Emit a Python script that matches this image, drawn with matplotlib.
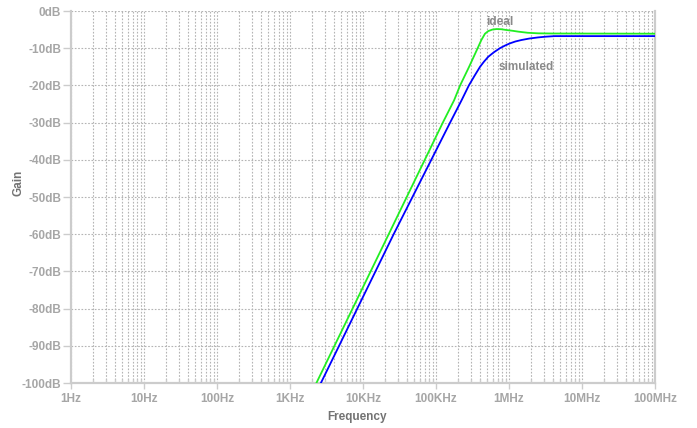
import matplotlib
matplotlib.use('Agg')
import matplotlib.pyplot as plt
from matplotlib.ticker import LogLocator, FixedLocator, NullFormatter

# Values (frequency in Hz, gain in dB)
ideal_freq = [2.3e3, 22.5e3, 124e3, 177e3, 214e3, 284e3, 372e3, 418e3, 469e3,
              520e3, 590e3, 675e3, 783e3, 916e3, 1.15e6, 1.34e6, 1.8e6,
              2.5e6, 4e6, 1e8]
ideal_gain = [-100, -60, -30, -24, -20, -15, -10, -7.8, -6.1,
              -5.4, -5.0, -4.85, -4.9, -5.1, -5.35, -5.55, -5.85,
              -6.0, -6.05, -6.1]

sim_freq = [2.65e3, 26.3e3, 156e3, 224e3, 282e3, 340e3, 401e3, 455e3, 520e3,
            620e3, 751e3, 880e3, 1.03e6, 1.22e6, 1.48e6, 1.9e6, 2.5e6,
            3.2e6, 4.23e6, 1e8]
sim_gain = [-100, -60, -30, -24, -20, -17.3, -15, -13.6, -12.3,
            -11.1, -10, -9.3, -8.7, -8.2, -7.8, -7.4, -7.1,
            -6.9, -6.75, -6.75]

freq_ticks = [1, 10, 100, 1e3, 1e4, 1e5, 1e6, 1e7, 1e8]
freq_labels = ['1Hz', '10Hz', '100Hz', '1KHz', '10KHz', '100KHz', '1MHz', '10MHz', '100MHz']
gain_ticks = list(range(0, -101, -10))
gain_labels = ['%ddB' % g for g in gain_ticks]

plt.rcParams['font.family'] = ['Liberation Sans', 'DejaVu Sans']

fig = plt.figure(figsize=(6.97, 4.28), dpi=100)
ax = fig.add_axes([71/697, 45/428, 584/697, 372/428])

ax.plot(ideal_freq, ideal_gain, color='#22ee22', lw=1.3, zorder=3)
ax.plot(sim_freq, sim_gain, color='#0000ff', lw=1.3, zorder=4)

ax.set_xscale('log')
ax.set_xlim(1, 1e8)
ax.set_ylim(-100, 0)

ax.xaxis.set_major_locator(FixedLocator(freq_ticks))
ax.set_xticklabels(freq_labels)
ax.xaxis.set_minor_locator(LogLocator(base=10, subs=range(2, 10), numticks=20))
ax.xaxis.set_minor_formatter(NullFormatter())
ax.set_yticks(gain_ticks)
ax.set_yticklabels(gain_labels)

grid_col = '#b4b4b4'
ax.grid(which='major', axis='both', color=grid_col, lw=0.8, ls=(0, (1.5, 1.5)))
ax.grid(which='minor', axis='x', color=grid_col, lw=0.8, ls=(0, (1.5, 1.5)))
ax.set_axisbelow(True)

spine_col = '#cccccc'
for side in ['left', 'bottom', 'right']:
    ax.spines[side].set_color(spine_col)
    ax.spines[side].set_linewidth(1.6)
ax.spines['top'].set_visible(False)

lab_col = '#a6a6a6'
ax.tick_params(axis='y', which='major', direction='out', length=6, width=1,
               color=spine_col, labelcolor=lab_col, labelsize=8.5, pad=1)
ax.tick_params(axis='x', which='major', direction='out', length=4, width=1,
               color=spine_col, labelcolor=lab_col, labelsize=8.5, pad=3)
ax.tick_params(axis='x', which='minor', direction='in', length=3, width=1,
               color=spine_col)
for lbl in ax.get_xticklabels() + ax.get_yticklabels():
    lbl.set_fontweight('bold')

# curve labels and axis titles
fig.text(500/697, 1 - 22/428, 'ideal', color='#8a8a8a', fontsize=8.5,
         fontweight='bold', ha='center', va='center')
fig.text(526/697, 1 - 67/428, 'simulated', color='#8a8a8a', fontsize=8.5,
         fontweight='bold', ha='center', va='center')
fig.text(357/697, 1 - 417/428, 'Frequency', color='#737373', fontsize=8.5,
         fontweight='bold', ha='center', va='center')
fig.text(18/697, 1 - 183/428, 'Gain', color='#737373', fontsize=8.5,
         fontweight='bold', ha='center', va='center', rotation=90)

fig.savefig('out.png', dpi=100)
